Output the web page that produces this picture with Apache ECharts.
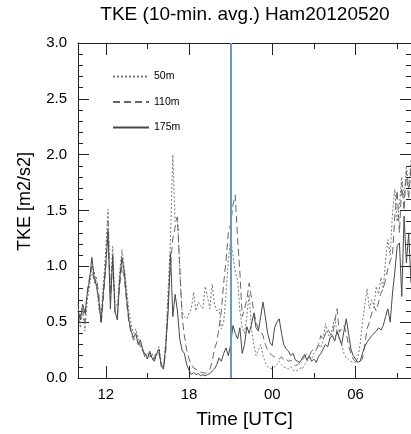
<!DOCTYPE html>
<html><head><meta charset="utf-8">
<script src="https://cdn.jsdelivr.net/npm/echarts@6/dist/echarts.min.js"></script>
<style>html,body{margin:0;padding:0;background:#fff}#c{width:411px;height:434px}</style>
</head><body><div id="c"></div>
<script>
// Time axis: hours since 00 UTC of the first day, 10-minute steps starting 10:00
const startHour = 10;
const stepHours = 1 / 6;
const markerHour = 21;
const majorTicks = [12, 18, 24, 30];
const minorTicks = [15, 21, 27, 33];
const seriesNames = ['50m', '110m', '175m'];

const tke50m = [
 0.66,0.45,0.60,0.42,0.70,0.82,
 1.00,0.95,0.85,0.62,0.55,0.85,
 1.15,1.51,0.75,1.18,0.68,0.62,
 0.95,1.15,1.00,0.80,0.60,0.48,
 0.40,0.44,0.36,0.30,0.28,0.20,
 0.22,0.18,0.22,0.16,0.20,0.28,
 0.14,0.10,0.35,0.80,1.25,2.00,
 1.40,1.45,0.95,0.60,0.55,0.53,
 0.58,0.62,0.77,0.60,0.68,0.65,
 0.62,0.82,0.73,0.62,0.84,0.66,
 0.60,0.62,0.44,0.50,0.75,1.05,
 1.25,1.10,0.95,0.88,0.60,0.45,
 0.40,0.55,0.75,0.45,0.30,0.20,
 0.25,0.30,0.20,0.14,0.10,0.09,
 0.08,0.10,0.12,0.15,0.12,0.10,
 0.09,0.08,0.10,0.07,0.06,0.07,
 0.09,0.08,0.12,0.15,0.18,0.17,
 0.22,0.25,0.30,0.27,0.33,0.49,
 0.40,0.35,0.45,0.53,0.42,0.35,
 0.30,0.22,0.18,0.17,0.15,0.14,
 0.14,0.18,0.30,0.50,0.65,0.80,
 0.62,0.70,0.65,0.82,0.75,0.90,
 0.80,1.05,1.24,1.10,1.48,1.69,
 1.40,1.55,1.80,1.60,1.90,1.70,
 1.95
];
const tke110m = [
 0.58,0.55,0.62,0.50,0.78,0.90,
 1.00,0.85,0.90,0.75,0.48,0.72,
 0.98,1.40,0.70,1.05,0.58,0.55,
 0.82,1.00,0.90,0.68,0.50,0.40,
 0.34,0.36,0.32,0.28,0.25,0.18,
 0.20,0.22,0.16,0.18,0.24,0.22,
 0.12,0.09,0.25,0.70,1.00,1.25,
 1.35,1.44,1.00,0.55,0.38,0.25,
 0.17,0.12,0.09,0.08,0.06,0.05,
 0.05,0.04,0.06,0.08,0.14,0.26,
 0.32,0.45,0.60,0.85,1.05,1.30,
 1.38,1.55,1.64,1.25,0.95,0.55,
 0.62,0.70,0.85,0.72,0.60,0.50,
 0.44,0.42,0.38,0.30,0.25,0.22,
 0.20,0.19,0.18,0.17,0.19,0.16,
 0.17,0.15,0.16,0.13,0.11,0.12,
 0.14,0.16,0.19,0.22,0.20,0.24,
 0.26,0.25,0.30,0.38,0.34,0.40,
 0.44,0.40,0.38,0.50,0.62,0.41,
 0.44,0.47,0.40,0.29,0.22,0.17,
 0.15,0.14,0.15,0.17,0.30,0.44,
 0.50,0.58,0.64,0.60,0.68,0.76,
 0.80,0.88,0.98,1.05,1.10,1.45,
 1.68,1.30,1.75,1.50,1.85,1.60,
 1.90
];
const tke175m = [
 0.60,0.52,0.66,0.58,0.75,0.88,
 1.08,0.90,0.82,0.70,0.50,0.78,
 1.02,1.30,0.62,1.10,0.60,0.52,
 0.88,1.08,0.95,0.72,0.52,0.42,
 0.36,0.40,0.30,0.34,0.24,0.22,
 0.17,0.24,0.18,0.15,0.22,0.26,
 0.10,0.08,0.30,0.60,1.12,0.55,
 0.75,0.60,0.35,0.25,0.22,0.12,
 0.07,0.03,0.05,0.03,0.04,0.02,
 0.03,0.02,0.03,0.04,0.06,0.08,
 0.12,0.18,0.15,0.22,0.27,0.20,
 0.30,0.47,0.40,0.35,0.45,0.22,
 0.30,0.46,0.40,0.48,0.58,0.45,
 0.42,0.55,0.68,0.55,0.40,0.32,
 0.29,0.45,0.50,0.53,0.40,0.30,
 0.26,0.24,0.20,0.22,0.16,0.15,
 0.14,0.18,0.21,0.16,0.20,0.15,
 0.17,0.14,0.19,0.22,0.26,0.30,
 0.28,0.36,0.38,0.33,0.42,0.36,
 0.30,0.42,0.53,0.40,0.26,0.20,
 0.17,0.14,0.15,0.22,0.28,0.32,
 0.35,0.38,0.40,0.42,0.45,0.43,
 0.47,0.55,0.62,0.50,0.76,0.95,
 1.18,1.21,0.73,1.45,1.03,1.30,
 0.85
];

function toPairs(arr) { return arr.map((v, i) => [startHour + i * stepHours, v]); }
function hourLabel(v) { const h = ((Math.round(v) % 24) + 24) % 24; return (h < 10 ? '0' : '') + h; }

const FONT = 'Liberation Sans';
const AX = '#222';
const chart = echarts.init(document.getElementById('c'), null, {renderer: 'canvas'});

function xAx(grid, pos, ticks, len, showLine, showLabel) {
  return {
    type: 'value', gridIndex: grid, position: pos, min: 10, max: 34,
    splitLine: {show: false},
    axisLine: {show: showLine, onZero: false, lineStyle: {color: AX, width: 1}},
    axisTick: {show: true, inside: true, length: len, customValues: ticks, lineStyle: {color: AX, width: 1}},
    axisLabel: showLabel ? {show: true, customValues: ticks, formatter: hourLabel, margin: 9,
      color: '#000', fontSize: 15, fontFamily: FONT} : {show: false}
  };
}
function yAx(pos, showLabel) {
  const o = {
    type: 'value', gridIndex: 0, position: pos, min: 0, max: 3, interval: 0.5,
    splitLine: {show: false},
    axisLine: {show: true, onZero: false, lineStyle: {color: AX, width: 1}},
    axisTick: {show: true, inside: true, length: 11, lineStyle: {color: AX, width: 1}},
    minorTick: {show: true, splitNumber: 5, length: 5, lineStyle: {color: AX, width: 1}},
    axisLabel: showLabel ? {show: true, formatter: v => v.toFixed(1), margin: 11,
      color: '#000', fontSize: 15, fontFamily: FONT} : {show: false}
  };
  if (showLabel) {
    o.name = 'TKE [m2/s2]';
    o.nameLocation = 'middle';
    o.nameGap = 44;
    o.nameTextStyle = {fontSize: 18, fontFamily: FONT, color: '#000', padding: [0, 0, 0, 18]};
  }
  return o;
}

const xMainBottom = xAx(0, 'bottom', majorTicks, 12, true, true);
xMainBottom.name = 'Time [UTC]';
xMainBottom.nameLocation = 'middle';
xMainBottom.nameGap = 32;
xMainBottom.nameTextStyle = {fontSize: 19, fontFamily: FONT, color: '#000'};

const option = {
  animation: false,
  backgroundColor: '#fff',
  title: {
    text: 'TKE (10-min. avg.) Ham20120520', left: 240, top: 0, textAlign: 'center',
    textStyle: {fontFamily: FONT, fontSize: 19, fontWeight: 'normal', color: '#000'}
  },
  legend: {
    orient: 'vertical', left: 107, top: 66, itemWidth: 36, itemHeight: 10, itemGap: 14.5,
    data: seriesNames,
    itemStyle: {opacity: 0},
    textStyle: {fontFamily: FONT, fontSize: 10.5, color: '#000'}
  },
  grid: [
    {left: 78, top: 43, width: 334, height: 336},
    {left: 78, top: 43, width: 334, height: 336}
  ],
  xAxis: [
    xMainBottom,
    xAx(0, 'top', majorTicks, 12, true, false),
    xAx(1, 'bottom', minorTicks, 6, false, false),
    xAx(1, 'top', minorTicks, 6, false, false)
  ],
  yAxis: [
    yAx('left', true),
    yAx('right', false),
    {type: 'value', gridIndex: 1, min: 0, max: 3, show: false}
  ],
  series: [
    {name: seriesNames[0], type: 'line', xAxisIndex: 0, yAxisIndex: 0, data: toPairs(tke50m),
     symbol: 'none', lineStyle: {color: '#777', width: 1, type: [2, 2]}, itemStyle: {color: '#777'}},
    {name: seriesNames[1], type: 'line', xAxisIndex: 0, yAxisIndex: 0, data: toPairs(tke110m),
     symbol: 'none', lineStyle: {color: '#666', width: 1, type: [7, 4]}, itemStyle: {color: '#666'}},
    {name: seriesNames[2], type: 'line', xAxisIndex: 0, yAxisIndex: 0, data: toPairs(tke175m),
     symbol: 'none', lineStyle: {color: '#484848', width: 1, type: 'solid'}, itemStyle: {color: '#484848'},
     markLine: {silent: true, symbol: ['none', 'none'], label: {show: false},
       lineStyle: {color: '#6b9ac8', width: 2, type: 'solid'}, data: [{xAxis: markerHour}]}}
  ]
};
chart.setOption(option);
</script></body></html>
